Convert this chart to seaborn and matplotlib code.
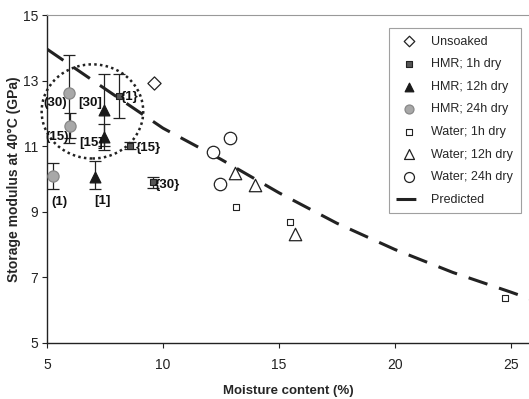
import matplotlib
matplotlib.use("Agg")
import matplotlib.pyplot as plt
import seaborn as sns
import pandas as pd
from matplotlib.patches import Ellipse

# ---------------- data ----------------
unsoaked_x = [9.61]
unsoaked_y = [12.94]

hmr1_x = [8.10, 8.58, 9.58]
hmr1_y = [12.53, 11.02, 9.90]
hmr1_err = [0.66, 0.10, 0.17]
hmr1_lbl = ["{1}", "{15}", "{30}"]

hmr12_x = [7.47, 7.47, 7.07]
hmr12_y = [12.10, 11.27, 10.07]
hmr12_err_lo = [1.10, 0.40, 0.38]
hmr12_err_hi = [1.09, 0.40, 0.49]
hmr12_lbl = ["[30]", "[15]", "[1]"]

hmr24_x = [5.97, 5.99, 5.27]
hmr24_y = [12.63, 11.63, 10.09]
hmr24_err_lo = [1.53, 0.39, 0.40]
hmr24_err_hi = [1.15, 0.37, 0.41]
hmr24_lbl = ["(30)", "(15)", "(1)"]

water1_x = [13.17, 15.47, 24.74]
water1_y = [9.16, 8.70, 6.38]
water12_x = [13.10, 13.97, 15.69]
water12_y = [10.17, 9.82, 8.32]
water24_x = [12.17, 12.89, 12.46]
water24_y = [10.83, 11.24, 9.85]

pred_x = [5.0, 7.5, 10.0, 12.5, 15.0, 17.5, 20.0, 22.5, 25.0, 25.8]
pred_y = [13.96, 12.75, 11.55, 10.60, 9.58, 8.65, 7.85, 7.15, 6.55, 6.35]

x_ticks = [5, 10, 15, 20, 25]
y_ticks = [5, 7, 9, 11, 13, 15]

# ---------------- style ----------------
sns.set_style("ticks")
plt.rcParams["font.family"] = ["Liberation Sans", "DejaVu Sans"]

fig = plt.figure(figsize=(5.29, 3.99), dpi=100)
ax = fig.add_axes([0.0888, 0.1404, 0.9112, 0.822])

# predicted line
pred_df = pd.DataFrame({"x": pred_x, "y": pred_y})
sns.lineplot(data=pred_df, x="x", y="y", ax=ax, color="#222222",
             linestyle=(0, (6.5, 4)), linewidth=2.2, label="Predicted",
             legend=False, zorder=2)

# error bars for HMR series
ax.errorbar(hmr24_x, hmr24_y, yerr=[hmr24_err_lo, hmr24_err_hi], fmt="none",
            ecolor="#222222", elinewidth=0.9, capsize=4, capthick=0.9, zorder=3)
ax.errorbar(hmr12_x, hmr12_y, yerr=[hmr12_err_lo, hmr12_err_hi], fmt="none",
            ecolor="#222222", elinewidth=0.9, capsize=4, capthick=0.9, zorder=3)
ax.errorbar(hmr1_x, hmr1_y, yerr=hmr1_err, fmt="none",
            ecolor="#222222", elinewidth=0.9, capsize=4, capthick=0.9, zorder=3)

def scat(x, y, label, marker, size, face, edge, lw=0.9):
    df = pd.DataFrame({"x": x, "y": y})
    sns.scatterplot(data=df, x="x", y="y", ax=ax, marker=marker, s=size,
                    color=face, edgecolor=edge, linewidth=lw, label=label,
                    zorder=4)

scat(unsoaked_x, unsoaked_y, "Unsoaked", "D", 45, "white", "#222222")
scat(hmr1_x, hmr1_y, "HMR; 1h dry", "s", 24, "#555555", "#222222", 0.8)
scat(hmr12_x, hmr12_y, "HMR; 12h dry", "^", 60, "#1a1a1a", "#1a1a1a")
scat(hmr24_x, hmr24_y, "HMR; 24h dry", "o", 65, "#a8a8a8", "#888888")
scat(water1_x, water1_y, "Water; 1h dry", "s", 24, "white", "#222222", 0.8)
scat(water12_x, water12_y, "Water; 12h dry", "^", 80, "white", "#222222")
scat(water24_x, water24_y, "Water; 24h dry", "o", 80, "white", "#222222")

# annotations
lbl_pos = {
    "(30)": (5.34, 12.33), "(15)": (5.42, 11.29), "(1)": (5.53, 9.31),
    "[30]": (6.85, 12.33), "[15]": (6.92, 11.09), "[1]": (7.39, 9.33),
    "{1}": (8.58, 12.51), "{15}": (9.37, 10.94), "{30}": (10.2, 9.82),
}
for lab in hmr24_lbl + hmr12_lbl + hmr1_lbl:
    px, py = lbl_pos[lab]
    ax.text(px, py, lab, ha="center", va="center", fontsize=9.5,
            fontweight="bold", color="#111111", zorder=5)

# dotted ellipse
ell = Ellipse((6.96, 12.06), 4.38, 2.87, fill=False, edgecolor="#222222",
              linestyle=(0, (1, 1.3)), linewidth=1.8, clip_on=False, zorder=3)
ax.add_patch(ell)

# axes
ax.set_xlim(5, 25.78)
ax.set_ylim(5, 15)
ax.set_xticks(x_ticks)
ax.set_yticks(y_ticks)
ax.tick_params(axis="both", labelsize=10, length=3.5, width=0.8,
               direction="out", colors="#222222")
ax.tick_params(axis="x", pad=7)
ax.tick_params(axis="y", pad=3)
ax.set_xlabel("Moisture content (%)", fontsize=9.5, fontweight="bold",
              labelpad=10)
ax.set_ylabel("Storage modulus at 40\u00b0C (GPa)", fontsize=10,
              fontweight="bold", labelpad=1)
for s in ["left", "bottom"]:
    ax.spines[s].set_color("#222222")
    ax.spines[s].set_linewidth(1.0)
ax.spines["right"].set_visible(False)
ax.spines["top"].set_visible(True)
ax.spines["top"].set_color("#999999")
ax.spines["top"].set_linestyle((0, (1, 1)))
ax.spines["top"].set_linewidth(0.8)

# legend
handles, labels = ax.get_legend_handles_labels()
order = ["Unsoaked", "HMR; 1h dry", "HMR; 12h dry", "HMR; 24h dry",
         "Water; 1h dry", "Water; 12h dry", "Water; 24h dry", "Predicted"]
hd = dict(zip(labels, handles))
leg = ax.legend([hd[k] for k in order], order, loc="upper right",
                bbox_to_anchor=(0.983, 0.96), borderaxespad=0, fontsize=9,
                frameon=True, fancybox=False, edgecolor="#888888",
                labelspacing=0.85, handlelength=2.0, handletextpad=0.8,
                borderpad=0.6, markerscale=0.8)
leg.get_frame().set_linewidth(0.8)

fig.savefig("out.png", dpi=100)
